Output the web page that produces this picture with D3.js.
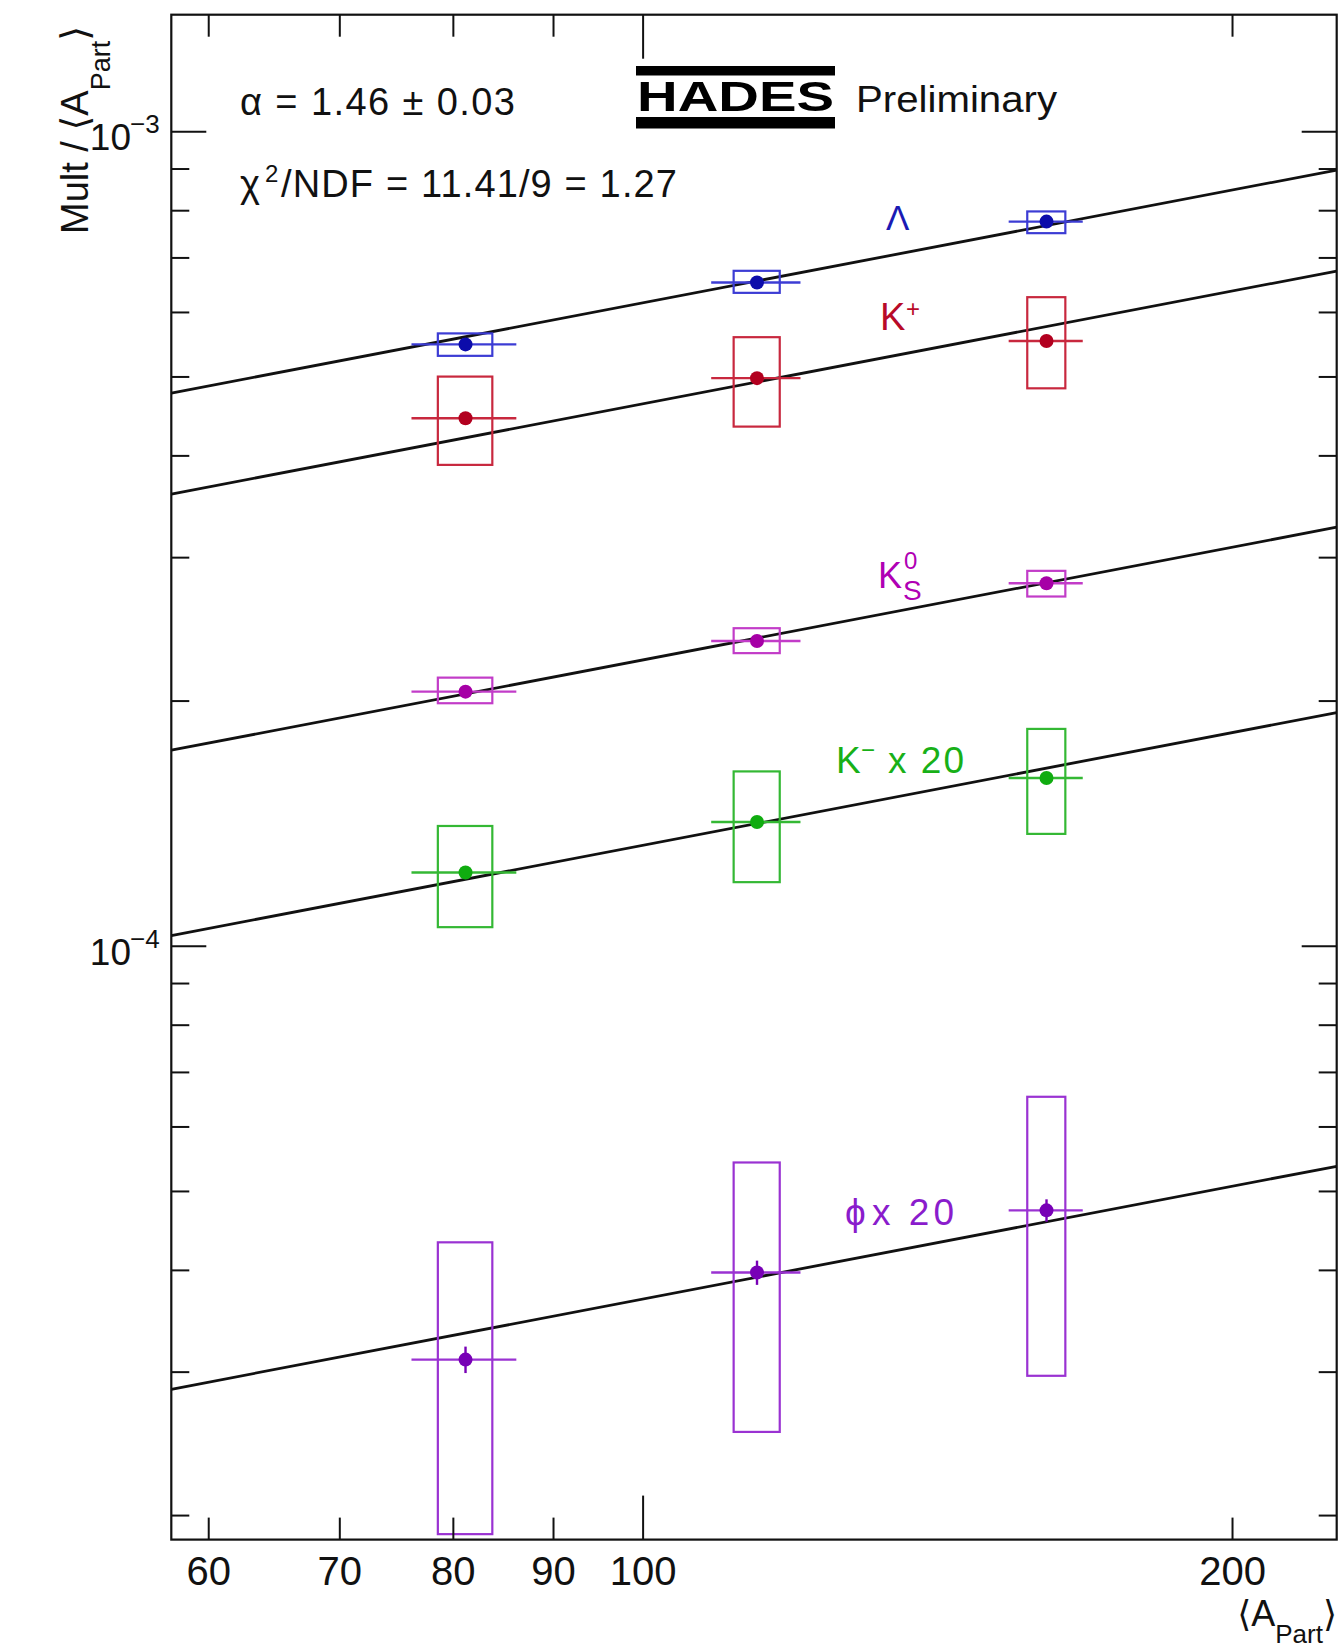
<!DOCTYPE html>
<html><head><meta charset="utf-8">
<script src="https://cdn.jsdelivr.net/npm/d3@7"></script>
<style>
html,body{margin:0;padding:0;background:#fff;}
text{font-family:"Liberation Sans",Arial,Helvetica,"DejaVu Sans",sans-serif;}
</style>
</head><body>
<svg id="c" width="1343" height="1648"></svg>
<script>
// ---------------- data ----------------
const aPart        = [81.2, 114.4, 160.8];   // <A_part>
const aPartErr     = [5.0, 6.0, 7.0];        // horizontal error
const aPartSysHalf = [2.6, 3.1, 3.6];        // half width of systematic box

const speciesNames = ["Lambda", "Kplus", "K0S", "Kminus20", "phi20"];

const lambdaVal   = [5.474e-4, 6.520e-4, 7.746e-4];
const lambdaStat  = [2.5e-6, 3.0e-6, 3.5e-6];
const lambdaSysLo = [5.300e-4, 6.333e-4, 7.497e-4];
const lambdaSysHi = [5.647e-4, 6.740e-4, 7.972e-4];

const kplusVal    = [4.443e-4, 4.976e-4, 5.528e-4];
const kplusStat   = [3.0e-6, 3.5e-6, 4.0e-6];
const kplusSysLo  = [3.894e-4, 4.339e-4, 4.835e-4];
const kplusSysHi  = [4.998e-4, 5.587e-4, 6.256e-4];

const k0sVal      = [2.051e-4, 2.367e-4, 2.787e-4];
const k0sStat     = [1.5e-6, 1.7e-6, 2.0e-6];
const k0sSysLo    = [1.985e-4, 2.287e-4, 2.684e-4];
const k0sSysHi    = [2.134e-4, 2.454e-4, 2.886e-4];

const kminusVal   = [1.230e-4, 1.419e-4, 1.607e-4];
const kminusStat  = [1.2e-6, 1.4e-6, 1.6e-6];
const kminusSysLo = [1.054e-4, 1.197e-4, 1.372e-4];
const kminusSysHi = [1.403e-4, 1.637e-4, 1.846e-4];

const phiVal      = [3.104e-5, 3.970e-5, 4.733e-5];
const phiStat     = [1.16e-6, 1.36e-6, 1.5e-6];
const phiSysLo    = [1.895e-5, 2.530e-5, 2.965e-5];
const phiSysHi    = [4.324e-5, 5.419e-5, 6.525e-5];

// common power-law fit: Mult/<A> = N * (A/100)^(alpha-1)
const fitAlpha    = 1.46;
const fitNormAt100 = [6.156e-4, 4.627e-4, 2.243e-4, 1.328e-4, 3.683e-5];

const xTickValues = [60, 70, 80, 90, 100, 200];
const xTickLabels = ["60", "70", "80", "90", "100", "200"];
const xMajorTicks = [100];
const yLabelDecades = [1e-3, 1e-4];
const yLabelExps    = ["\u22123", "\u22124"];

const xDomain = [57.45, 226.2];
const yDomain = [1.866e-5, 1.3903e-3];

// ---------------- layout ----------------
const W = 1343, H = 1648;
const m = {left: 171.3, top: 14.7, right: 1343 - 1336.7, bottom: 1648 - 1539.6};
const pw = W - m.left - m.right, ph = H - m.top - m.bottom;

const svg = d3.select("#c");
svg.append("rect").attr("width", W).attr("height", H).attr("fill", "#fff");

const x = d3.scaleLog().domain(xDomain).range([m.left, m.left + pw]);
const y = d3.scaleLog().domain(yDomain).range([m.top + ph, m.top]);

const series = [
  {val: lambdaVal, stat: lambdaStat, lo: lambdaSysLo, hi: lambdaSysHi, mk: "#0c0caa", ln: "#3c3cd4"},
  {val: kplusVal,  stat: kplusStat,  lo: kplusSysLo,  hi: kplusSysHi,  mk: "#b2001f", ln: "#c8283e"},
  {val: k0sVal,    stat: k0sStat,    lo: k0sSysLo,    hi: k0sSysHi,    mk: "#a600a6", ln: "#c23cc8"},
  {val: kminusVal, stat: kminusStat, lo: kminusSysLo, hi: kminusSysHi, mk: "#10ac10", ln: "#34b834"},
  {val: phiVal,    stat: phiStat,    lo: phiSysLo,    hi: phiSysHi,    mk: "#7800b6", ln: "#9a32d2"}
];

svg.append("defs").append("clipPath").attr("id", "plotclip")
  .append("rect").attr("x", m.left).attr("y", m.top).attr("width", pw).attr("height", ph);

const plot = svg.append("g").attr("clip-path", "url(#plotclip)");

// fit lines
const line = d3.line().x(d => x(d[0])).y(d => y(d[1]));
fitNormAt100.forEach(n => {
  const pts = xDomain.map(a => [a, n * Math.pow(a / 100, fitAlpha - 1)]);
  plot.append("path").attr("d", line(pts)).attr("fill", "none")
    .attr("stroke", "#111").attr("stroke-width", 2.8);
});

// data
series.forEach(s => {
  const g = plot.append("g");
  aPart.forEach((a, i) => {
    g.append("rect")
      .attr("x", x(a - aPartSysHalf[i])).attr("width", x(a + aPartSysHalf[i]) - x(a - aPartSysHalf[i]))
      .attr("y", y(s.hi[i])).attr("height", y(s.lo[i]) - y(s.hi[i]))
      .attr("fill", "none").attr("stroke", s.ln).attr("stroke-width", 2.2);
    g.append("line")
      .attr("x1", x(a - aPartErr[i])).attr("x2", x(a + aPartErr[i]))
      .attr("y1", y(s.val[i])).attr("y2", y(s.val[i]))
      .attr("stroke", s.ln).attr("stroke-width", 2.4);
    g.append("line")
      .attr("x1", x(a)).attr("x2", x(a))
      .attr("y1", y(s.val[i] - s.stat[i])).attr("y2", y(s.val[i] + s.stat[i]))
      .attr("stroke", s.mk).attr("stroke-width", 2.4);
    g.append("circle").attr("cx", x(a)).attr("cy", y(s.val[i])).attr("r", 7).attr("fill", s.mk);
  });
});

// axes (ticks inside, all four sides)
const axB = svg.append("g").attr("transform", `translate(0,${m.top + ph})`)
  .call(d3.axisBottom(x).tickValues(xTickValues).tickSizeInner(-22).tickSizeOuter(0).tickPadding(17)
    .tickFormat((d, i) => xTickLabels[i]));
axB.selectAll(".tick line").attr("y2", d => xMajorTicks.includes(d) ? -44 : -22);
axB.selectAll(".tick text").attr("font-size", 40).attr("fill", "#111")
  .attr("font-family", '"Liberation Sans",Arial,sans-serif');

const axT = svg.append("g").attr("transform", `translate(0,${m.top})`)
  .call(d3.axisTop(x).tickValues(xTickValues).tickSizeInner(-22).tickSizeOuter(0).tickFormat(""));
axT.selectAll(".tick line").attr("y2", d => xMajorTicks.includes(d) ? 44 : 22);

const yTicks = y.ticks();
const isDecade = d => Math.abs(Math.log10(d) - Math.round(Math.log10(d))) < 1e-6;
const axL = svg.append("g").attr("transform", `translate(${m.left},0)`)
  .call(d3.axisLeft(y).tickValues(yTicks).tickSizeInner(-18).tickSizeOuter(0).tickFormat(""));
axL.selectAll(".tick line").attr("x2", d => isDecade(d) ? 35 : 18);
const axR = svg.append("g").attr("transform", `translate(${m.left + pw},0)`)
  .call(d3.axisRight(y).tickValues(yTicks).tickSizeInner(-18).tickSizeOuter(0).tickFormat(""));
axR.selectAll(".tick line").attr("x2", d => isDecade(d) ? -35 : -18);

svg.selectAll(".domain").remove();
svg.selectAll(".tick line").attr("stroke", "#111").attr("stroke-width", 2);

// frame
svg.append("rect").attr("x", m.left).attr("y", m.top).attr("width", pw).attr("height", ph)
  .attr("fill", "none").attr("stroke", "#111").attr("stroke-width", 2.2);

// y decade labels 10^-n
yLabelDecades.forEach((d, i) => {
  const yy = y(d);
  svg.append("text").attr("x", 131).attr("y", yy + 19).attr("text-anchor", "end")
    .attr("font-size", 37).attr("fill", "#111").text("10");
  svg.append("text").attr("x", 130).attr("y", yy + 2).attr("text-anchor", "start")
    .attr("font-size", 26).attr("fill", "#111").text(yLabelExps[i]);
});

// axis titles
const yt = svg.append("text").attr("transform", "translate(88,234) rotate(-90)")
  .attr("font-size", 38).attr("fill", "#111");
yt.append("tspan").text("Mult / \u27E8A");
yt.append("tspan").attr("font-size", 27).attr("dy", 22).text("Part");
yt.append("tspan").attr("dy", -22).text("\u27E9");

const xt = svg.append("text").attr("x", 1337).attr("y", 1626).attr("text-anchor", "end")
  .attr("font-size", 36).attr("fill", "#111");
xt.append("tspan").text("\u27E8A");
xt.append("tspan").attr("font-size", 26).attr("dy", 17).text("Part");
xt.append("tspan").attr("dy", -17).text("\u27E9");

// fit info
svg.append("text").attr("x", 240).attr("y", 115).attr("font-size", 38).attr("fill", "#111")
  .attr("textLength", 275).attr("lengthAdjust", "spacing").text("\u03B1 = 1.46 \u00B1 0.03");
svg.append("text").attr("x", 240).attr("y", 197).attr("font-size", 38).attr("fill", "#111").text("\u03C7");
svg.append("text").attr("x", 265).attr("y", 182).attr("font-size", 24).attr("fill", "#111").text("2");
svg.append("text").attr("x", 281).attr("y", 197).attr("font-size", 38).attr("fill", "#111")
  .attr("textLength", 396).attr("lengthAdjust", "spacing").text("/NDF = 11.41/9 = 1.27");

// HADES logo
svg.append("rect").attr("x", 636).attr("y", 66).attr("width", 199).attr("height", 9.5).attr("fill", "#000");
svg.append("rect").attr("x", 636).attr("y", 117).attr("width", 199).attr("height", 11.5).attr("fill", "#000");
svg.append("text").attr("x", 637).attr("y", 111).attr("font-size", 42).attr("font-weight", "bold")
  .attr("textLength", 197).attr("lengthAdjust", "spacingAndGlyphs").attr("fill", "#000").text("HADES");
svg.append("text").attr("x", 856).attr("y", 112).attr("font-size", 36).attr("fill", "#111")
  .attr("textLength", 201).attr("lengthAdjust", "spacingAndGlyphs").text("Preliminary");

// species labels
svg.append("text").attr("x", 886).attr("y", 230).attr("font-size", 35)
  .attr("font-family", '"Liberation Serif","DejaVu Serif",serif').attr("fill", "#1a1ab4").text("\u039B");

svg.append("text").attr("x", 880).attr("y", 330).attr("font-size", 38).attr("fill", "#b80a28").text("K");
svg.append("text").attr("x", 906).attr("y", 317).attr("font-size", 24).attr("fill", "#b80a28").text("+");

svg.append("text").attr("x", 878).attr("y", 588).attr("font-size", 36).attr("fill", "#b000b4").text("K");
svg.append("text").attr("x", 904).attr("y", 569).attr("font-size", 24).attr("fill", "#b000b4").text("0");
svg.append("text").attr("x", 903).attr("y", 600).attr("font-size", 28).attr("fill", "#b000b4").text("S");

svg.append("text").attr("x", 836).attr("y", 773).attr("font-size", 37).attr("fill", "#18b018").text("K");
svg.append("text").attr("x", 861).attr("y", 758).attr("font-size", 24).attr("fill", "#18b018").text("\u2212");
svg.append("text").attr("x", 888).attr("y", 773).attr("font-size", 37).attr("fill", "#18b018")
  .attr("textLength", 76).attr("lengthAdjust", "spacing").text("x 20");

svg.append("text").attr("x", 845).attr("y", 1225).attr("font-size", 37).attr("fill", "#8a1ccc")
  .attr("font-family", '"DejaVu Sans","Liberation Sans",sans-serif').text("\u03D5");
svg.append("text").attr("x", 872).attr("y", 1225).attr("font-size", 37).attr("fill", "#8a1ccc")
  .attr("textLength", 82).attr("lengthAdjust", "spacing").text("x 20");
</script>
</body></html>
